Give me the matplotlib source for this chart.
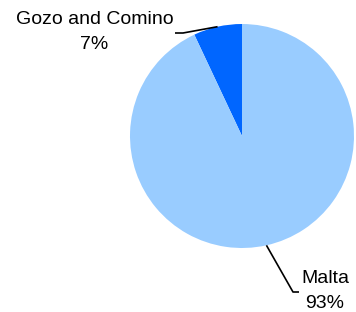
import numpy as np
import matplotlib.pyplot as plt

labels = ['Gozo and Comino', 'Malta']
values = [7, 93]
colors = ['#0066FF', '#99CCFF']

plt.rcParams['font.family'] = ['Liberation Sans', 'DejaVu Sans']

W, H = 356, 312
cx, cy, r = 242, 136, 112

fig = plt.figure(figsize=(W / 100, H / 100), dpi=100)
ax = fig.add_axes([0, 0, 1, 1])

wedges, _ = ax.pie(values, colors=colors, startangle=90, counterclock=True,
                   radius=1, wedgeprops=dict(linewidth=0))

# limits set after pie so that 1 data unit = r pixels
ax.set_aspect('auto')
ax.set_xlim(-cx / r, (W - cx) / r)
ax.set_ylim(-(H - cy) / r, cy / r)
ax.axis('off')


def px(x, y):
    return (x - cx) / r, (cy - y) / r


# label layout: elbow, line end, text centre (pixels)
layout = [
    ((183, 33), (175, 33), (94.5, 32)),
    ((293, 292), (299, 292), (325, 291)),
]

for w, lab, v, (elb, end, txt) in zip(wedges, labels, values, layout):
    ang = np.deg2rad((w.theta1 + w.theta2) / 2)
    x0, y0 = np.cos(ang), np.sin(ang)
    ex, ey = px(*elb)
    nx, ny = px(*end)
    ax.plot([x0, ex, nx], [y0, ey, ny], color='black', lw=1.2,
            solid_capstyle='butt')
    tx, ty = px(*txt)
    ax.text(tx, ty, '{}\n{}%'.format(lab, v), ha='center', va='center',
            fontsize=14, linespacing=1.55)

fig.savefig('out.png', dpi=100)
